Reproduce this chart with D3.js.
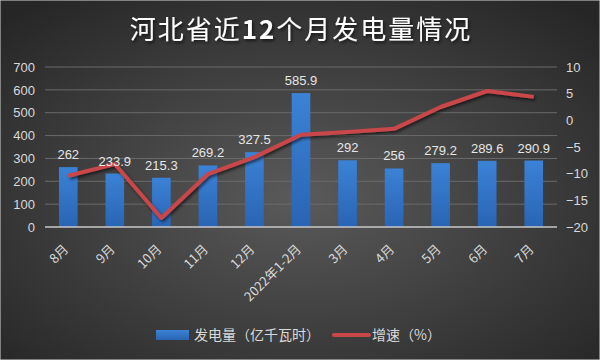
<!DOCTYPE html>
<html>
<head>
<meta charset="utf-8">
<script src="https://cdn.jsdelivr.net/npm/d3@7"></script>
<style>
  body { margin: 0; background: #333; }
  svg { display: block; font-family: 'Noto Sans CJK SC', 'Noto Sans', sans-serif; }
</style>
</head>
<body>
<script>
var months = ['8月', '9月', '10月', '11月', '12月', '2022年1-2月', '3月', '4月', '5月', '6月', '7月']
var output = [262, 233.9, 215.3, 269.2, 327.5, 585.9, 292, 256, 279.2, 289.6, 290.9]
var growth = [-10.4, -8.2, -18.3, -10.1, -6.9, -2.7, -2.2, -1.6, 2.5, 5.5, 4.4]
var leftTicks = [0, 100, 200, 300, 400, 500, 600, 700]
var rightTicks = [-20, -15, -10, -5, 0, 5, 10]

var width = 600
var height = 360
var margin = { left: 45, right: 43, top: 67, bottom: 133 }

var svg = d3.select('body').append('svg')
  .attr('width', width)
  .attr('height', height)

var defs = svg.append('defs')
var bg = defs.append('radialGradient').attr('id', 'bg')
  .attr('cx', '50%').attr('cy', '55%').attr('r', '70%')
bg.append('stop').attr('offset', '0%').attr('stop-color', '#5a5a5a')
bg.append('stop').attr('offset', '100%').attr('stop-color', '#262626')

var barGrad = defs.append('linearGradient').attr('id', 'barGrad')
  .attr('x1', 0).attr('x2', 0).attr('y1', 0).attr('y2', 1)
barGrad.append('stop').attr('offset', '0%').attr('stop-color', '#3b82d6')
barGrad.append('stop').attr('offset', '100%').attr('stop-color', '#2a64b4')

var shadow = defs.append('filter').attr('id', 'shadow')
  .attr('x', '-10%').attr('y', '-10%').attr('width', '120%').attr('height', '130%')
shadow.append('feDropShadow').attr('dx', 1.5).attr('dy', 2).attr('stdDeviation', 1.5)
  .attr('flood-color', '#000').attr('flood-opacity', 0.6)

svg.append('rect')
  .attr('width', width).attr('height', height)
  .attr('fill', 'url(#bg)')
  .attr('stroke', '#d8d8d8').attr('stroke-width', 1)

var x = d3.scaleBand()
  .domain(months)
  .range([margin.left, width - margin.right])
  .paddingInner(0.6)
  .paddingOuter(0.3)

var y = d3.scaleLinear().domain([0, 700]).range([height - margin.bottom, margin.top])
var y2 = d3.scaleLinear().domain([-20, 10]).range([height - margin.bottom, margin.top])

// title
var title = svg.append('text')
  .attr('x', width / 2 + 1)
  .attr('y', 39)
  .attr('text-anchor', 'middle')
  .attr('fill', '#fff')
  .attr('font-size', 26)
  .attr('filter', 'url(#shadow)')
  .style('letter-spacing', '2px')
title.append('tspan').text('河北省近')
title.append('tspan').attr('font-weight', 'bold').text('12')
title.append('tspan').text('个月发电量情况')

// gridlines
svg.append('g')
  .selectAll('line')
  .data(leftTicks.slice(1))
  .join('line')
  .attr('x1', margin.left)
  .attr('x2', width - margin.right)
  .attr('y1', function (d) { return y(d) })
  .attr('y2', function (d) { return y(d) })
  .attr('stroke', '#6a6a6a')
  .attr('stroke-width', 1)

// left axis
var leftAxis = svg.append('g')
  .attr('transform', 'translate(' + (margin.left - 10) + ',0)')
  .call(d3.axisLeft(y).tickValues(leftTicks).tickSize(0).tickPadding(0))
leftAxis.select('.domain').remove()
leftAxis.selectAll('text')
  .attr('fill', '#d9d9d9')
  .attr('font-size', 13)
  .attr('font-family', 'Liberation Sans, Arial, sans-serif')

// right axis
var rightAxis = svg.append('g')
  .attr('transform', 'translate(' + (width - margin.right + 9) + ',0)')
  .call(d3.axisRight(y2).tickValues(rightTicks).tickSize(0).tickPadding(0))
rightAxis.select('.domain').remove()
rightAxis.selectAll('text')
  .attr('fill', '#d9d9d9')
  .attr('font-size', 13)
  .attr('font-family', 'Liberation Sans, Arial, sans-serif')

// bars
svg.append('g')
  .selectAll('rect')
  .data(output)
  .join('rect')
  .attr('x', function (d, i) { return x(months[i]) })
  .attr('width', x.bandwidth())
  .attr('y', function (d) { return y(d) })
  .attr('height', function (d) { return y(0) - y(d) })
  .attr('fill', 'url(#barGrad)')

// baseline
svg.append('line')
  .attr('x1', margin.left)
  .attr('x2', width - margin.right)
  .attr('y1', y(0))
  .attr('y2', y(0))
  .attr('stroke', '#c8c8c8')
  .attr('stroke-width', 1.5)

// growth line
var line = d3.line()
  .x(function (d, i) { return x(months[i]) + x.bandwidth() / 2 })
  .y(function (d) { return y2(d) })

svg.append('path')
  .datum(growth)
  .attr('d', line)
  .attr('fill', 'none')
  .attr('stroke', '#c9474a')
  .attr('stroke-width', 4)
  .attr('stroke-linejoin', 'round')
  .attr('filter', 'url(#shadow)')

// bar labels
svg.append('g')
  .selectAll('text')
  .data(output)
  .join('text')
  .attr('x', function (d, i) { return x(months[i]) + x.bandwidth() / 2 })
  .attr('y', function (d) { return y(d) - 8 })
  .attr('text-anchor', 'middle')
  .attr('fill', '#e6e6e6')
  .attr('font-size', 13)
  .attr('font-family', 'Liberation Sans, Arial, sans-serif')
  .text(function (d) { return d })

// x labels
svg.append('g')
  .selectAll('text')
  .data(months)
  .join('text')
  .attr('transform', function (d) {
    return 'translate(' + (x(d) + x.bandwidth() / 2 + 1) + ',' + (y(0) + 23) + ') rotate(-45)'
  })
  .attr('text-anchor', 'end')
  .attr('fill', '#d9d9d9')
  .attr('font-size', 13)
  .text(function (d) { return d })

// legend
var legend = svg.append('g').attr('transform', 'translate(0,335)')
legend.append('rect')
  .attr('x', 156).attr('y', -5).attr('width', 33).attr('height', 10)
  .attr('fill', 'url(#barGrad)')
legend.append('text')
  .attr('x', 194).attr('y', 5)
  .attr('fill', '#d9d9d9').attr('font-size', 14)
  .text('发电量（亿千瓦时）')
legend.append('line')
  .attr('x1', 334).attr('x2', 369).attr('y1', 0).attr('y2', 0)
  .attr('stroke', '#c9474a').attr('stroke-width', 4).attr('stroke-linecap', 'round')
legend.append('text')
  .attr('x', 372).attr('y', 5)
  .attr('fill', '#d9d9d9').attr('font-size', 14)
  .text('增速（%）')
</script>
</body>
</html>
